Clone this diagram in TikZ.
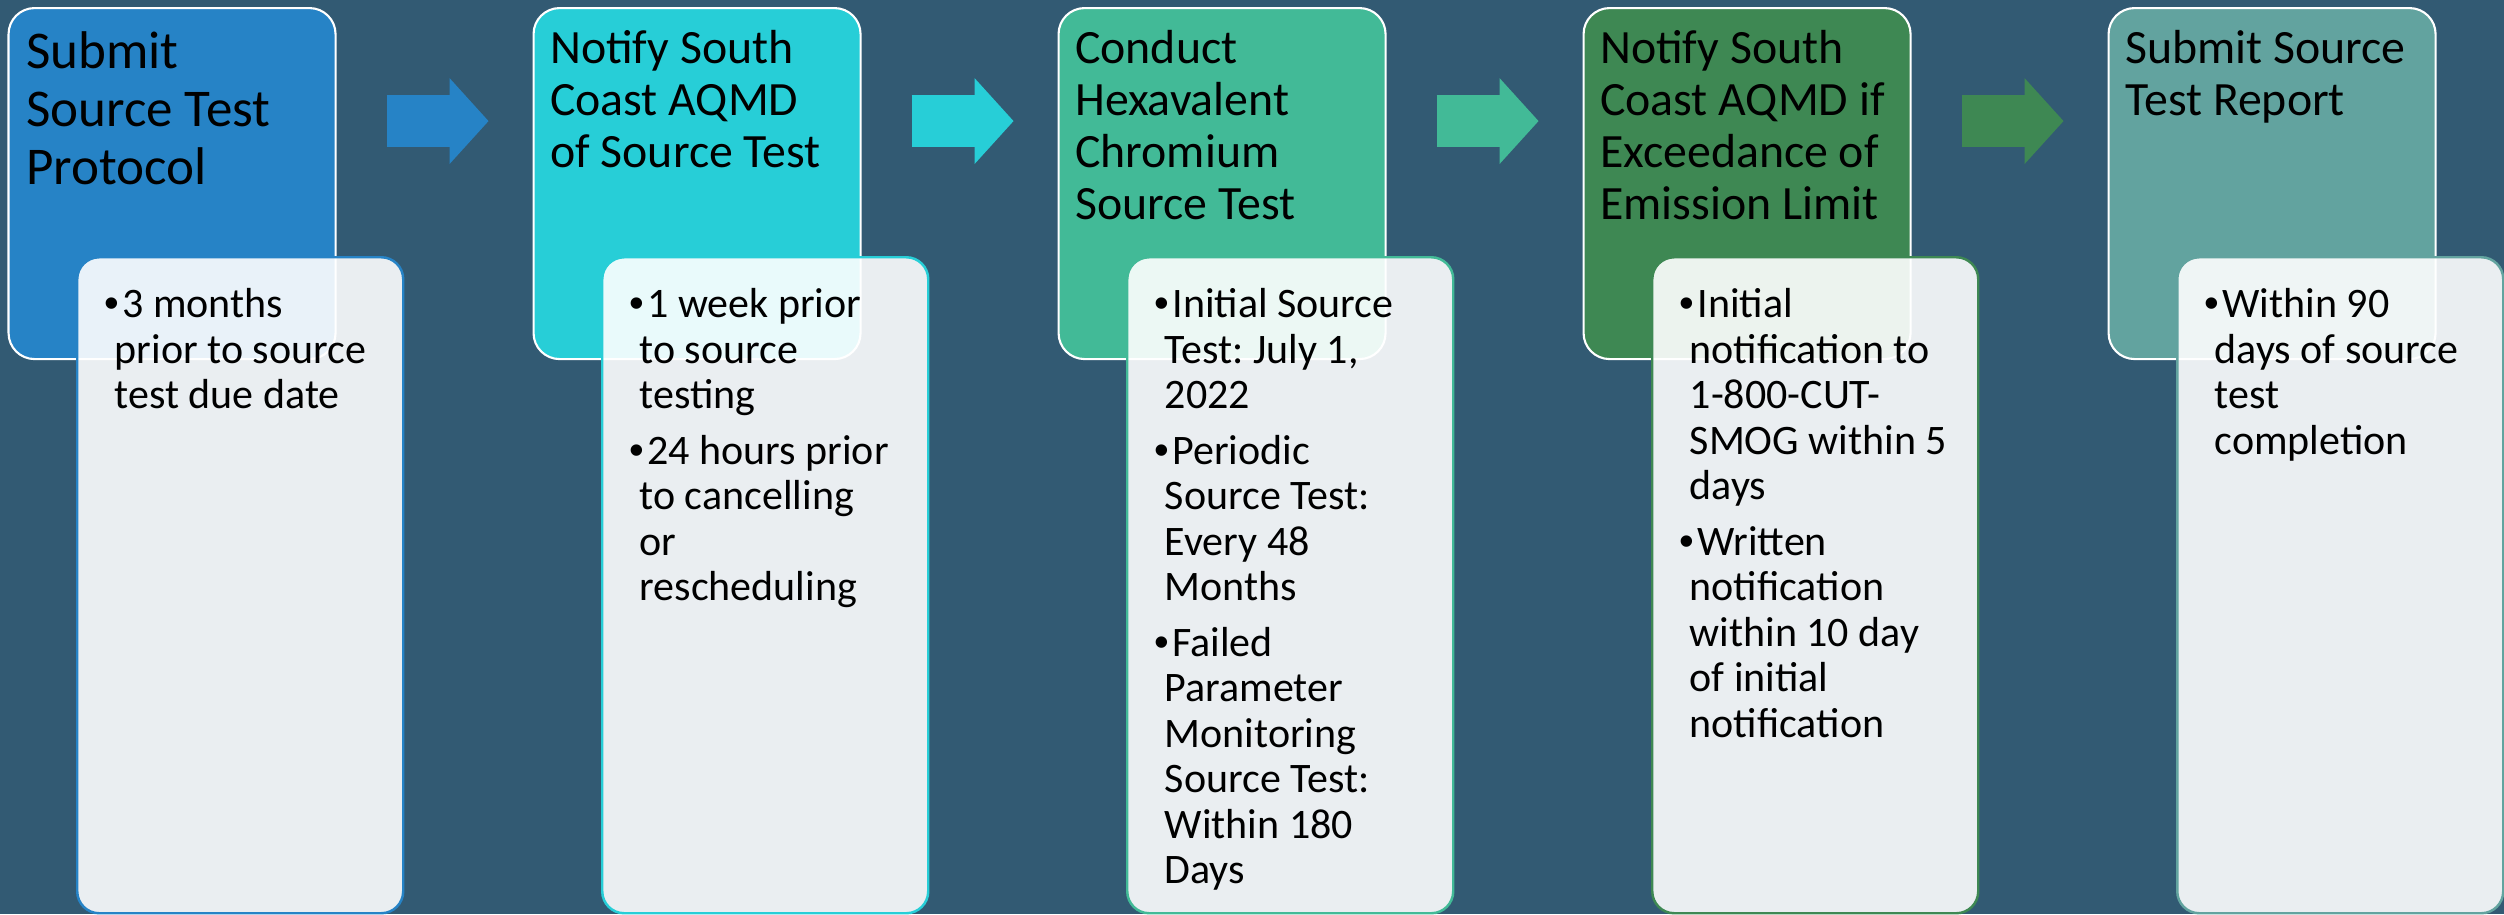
\documentclass[tikz,border=0pt]{standalone}
\usepackage{fontspec}
\setmainfont{Carlito}
\newfontfamily\bulletfont{Liberation Sans}
\usetikzlibrary{arrows.meta}
\definecolor{bgblue}{RGB}{50,90,115}
\definecolor{stepA}{RGB}{38,131,198}
\definecolor{stepB}{RGB}{39,206,215}
\definecolor{stepC}{RGB}{66,186,151}
\definecolor{stepD}{RGB}{62,136,83}
\definecolor{stepE}{RGB}{98,163,159}
\newcommand{\leadfont}{\fontsize{15.1pt}{16.5pt}\selectfont\frenchspacing}
\newcommand{\headfont}{\fontsize{13.6pt}{14.8pt}\selectfont\frenchspacing}
\newcommand{\notefont}{\fontsize{11.95pt}{12.95pt}\selectfont\frenchspacing}
\newcommand{\leadstrut}{\rule{0pt}{0.61cm}}
\newcommand{\headstrut}{\rule{0pt}{0.56cm}}
\newcommand{\topstrut}{\rule{0pt}{0.61cm}}
\newcommand{\indline}{\hspace*{0.10cm}}
\newcommand{\bul}{{\bulletfont •}\hspace{0.03cm}}

\begin{document}
\begin{tikzpicture}[x=1cm, y=1cm,
    stepbox/.style = {draw=white, line width=0.6pt, rounded corners=0.26cm, minimum width=3.27cm, minimum height=3.51cm, inner sep=0, anchor=north west},
    notebox/.style = {draw=#1, fill=white, fill opacity=0.9, line width=0.7pt, rounded corners=0.22cm, minimum width=3.26cm, minimum height=6.56cm, inner sep=0, anchor=north west},
    headtext/.style = {anchor=north west, inner sep=0, align=left, font=\headfont},
    notetext/.style = {anchor=north west, inner sep=0, align=left, font=\notefont},
    flow/.style = {line width=0.52cm, -{Triangle[width=0.86cm, length=0.39cm, line width=0pt]}, shorten <=0.5cm, shorten >=0.44cm}]
    \useasboundingbox (0,0) rectangle (25.04,-9.14);
    \fill[bgblue] (0,0) rectangle (25.04,-9.14);

    % Steps
    \node[stepbox, fill=stepA] (s1) at (0.075, -0.07) {};
    \node[stepbox, fill=stepB] (s2) at (5.325, -0.07) {};
    \node[stepbox, fill=stepC] (s3) at (10.575, -0.07) {};
    \node[stepbox, fill=stepD] (s4) at (15.825, -0.07) {};
    \node[stepbox, fill=stepE] (s5) at (21.075, -0.07) {};

    \node[headtext, font=\leadfont] (h1) at ([xshift=0.18cm]s1.north west) {\leadstrut Submit\\Source Test\\Protocol};
    \node[headtext] (h2) at ([xshift=0.17cm]s2.north west) {\headstrut Notify South\\Coast AQMD\\of Source Test};
    \node[headtext] (h3) at ([xshift=0.17cm]s3.north west) {\headstrut Conduct\\Hexavalent\\Chromium\\Source Test};
    \node[headtext] (h4) at ([xshift=0.17cm]s4.north west) {\headstrut Notify South\\Coast AQMD if\\Exceedance of\\Emission Limit};
    \node[headtext] (h5) at ([xshift=0.17cm]s5.north west) {\headstrut Submit Source\\Test Report};

    % Arrows
    \draw[flow, stepA] ([yshift=0.625cm]s1.east) -- ([yshift=0.625cm]s2.west);
    \draw[flow, stepB] ([yshift=0.625cm]s2.east) -- ([yshift=0.625cm]s3.west);
    \draw[flow, stepC] ([yshift=0.625cm]s3.east) -- ([yshift=0.625cm]s4.west);
    \draw[flow, stepD] ([yshift=0.625cm]s4.east) -- ([yshift=0.625cm]s5.west);

    % Notes
    \node[notebox=stepA] (n1) at (0.76, -2.56) {};
    \node[notebox=stepB] (n2) at (6.01, -2.56) {};
    \node[notebox=stepC] (n3) at (11.26, -2.56) {};
    \node[notebox=stepD] (n4) at (16.51, -2.56) {};
    \node[notebox=stepE] (n5) at (21.76, -2.56) {};

    \node[notetext] (d1) at ([xshift=0.28cm]n1.north west) {\topstrut\bul 3 months\\\indline prior to source\\\indline test due date};
    \node[notetext] (d2) at ([xshift=0.28cm]n2.north west) {\topstrut\bul 1 week prior\\\indline to source\\\indline testing\\[0.10cm]\bul 24 hours prior\\\indline to cancelling\\\indline or\\\indline rescheduling};
    \node[notetext] (d3) at ([xshift=0.28cm]n3.north west) {\topstrut\bul Initial Source\\\indline Test: July 1,\\\indline 2022\\[0.10cm]\bul Periodic\\\indline Source Test:\\\indline Every 48\\\indline Months\\[0.10cm]\bul Failed\\\indline Parameter\\\indline Monitoring\\\indline Source Test:\\\indline Within 180\\\indline Days};
    \node[notetext] (d4) at ([xshift=0.28cm]n4.north west) {\topstrut\bul Initial\\\indline notification to\\\indline 1-800-CUT-\\\indline SMOG within 5\\\indline days\\[0.10cm]\bul Written\\\indline notification\\\indline within 10 day\\\indline of initial\\\indline notification};
    \node[notetext] (d5) at ([xshift=0.28cm]n5.north west) {\topstrut\bul Within 90\\\indline days of source\\\indline test\\\indline completion};
\end{tikzpicture}
\end{document}
